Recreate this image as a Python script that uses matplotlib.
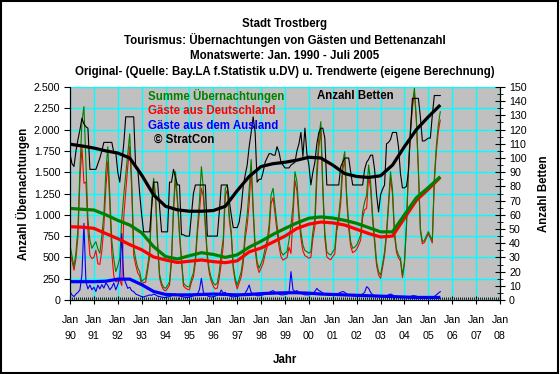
import matplotlib
matplotlib.use("Agg")
import matplotlib.pyplot as plt
from matplotlib.patches import Rectangle
from matplotlib.ticker import FixedLocator, MultipleLocator, FuncFormatter

plt.rcParams['font.family'] = ['Liberation Sans', 'DejaVu Sans']

# ---------------- data (monthly, Jan 1990 - Jul 2005) ----------------
start_year = 1990
summe = [
    645, 520, 390, 560, 841, 1546, 2093, 2270, 1600, 950, 700, 606,
    650, 684, 600, 548, 760, 1000, 1506, 1800, 1232, 700, 480, 333,
    400, 489, 950, 1232, 1467, 1700, 1950, 1400, 620, 480, 380, 333,
    215, 240, 254, 400, 567, 1154, 1428, 1232, 684, 300, 200, 150,
    137, 170, 215, 500, 1100, 1506, 1193, 800, 489, 200, 170, 156,
    156, 250, 320, 500, 850, 1154, 1565, 1300, 900, 528, 350, 254,
    200, 176, 200, 333, 550, 724, 1311, 1350, 1000, 802, 400, 254,
    176, 250, 333, 500, 800, 998, 1300, 1650, 1100, 645, 450, 372,
    430, 489, 606, 700, 880, 1232, 1311, 1100, 880, 700, 567, 528,
    550, 567, 700, 880, 1100, 1506, 1389, 1036, 800, 645, 580, 567,
    550, 567, 800, 958, 1546, 1898, 2093, 1350, 800, 567, 540, 528,
    567, 600, 880, 1000, 1232, 1623, 1741, 1232, 900, 684, 606, 620,
    645, 700, 763, 1036, 1150, 1232, 1585, 1389, 1000, 724, 450, 333,
    293, 420, 567, 800, 1150, 1506, 1300, 802, 600, 528, 489, 293,
    450, 880, 1546, 2000, 2300, 2485, 2132, 1546, 841, 684, 700, 750,
    802, 750, 700, 1428, 1800, 2054, 2210,
]
deutschland = [
    547, 460, 350, 490, 751, 1426, 1793, 1370, 1385, 820, 525, 486,
    500, 584, 425, 418, 580, 860, 1306, 1630, 1112, 550, 280, 213,
    220, 235, 170, 978, 1267, 1563, 1800, 1290, 522, 410, 320, 283,
    175, 205, 209, 350, 507, 1099, 1358, 1172, 639, 260, 165, 120,
    107, 135, 175, 450, 1040, 1436, 1133, 750, 449, 165, 140, 126,
    121, 210, 270, 440, 780, 1034, 1311, 1210, 840, 478, 310, 219,
    160, 131, 140, 263, 433, 644, 1221, 1290, 950, 762, 365, 214,
    131, 200, 273, 430, 720, 878, 1124, 1560, 1030, 585, 400, 322,
    375, 429, 536, 620, 790, 1132, 1201, 1010, 800, 630, 507, 468,
    485, 497, 620, 547, 980, 1406, 1279, 946, 720, 575, 520, 507,
    490, 502, 720, 858, 1410, 1788, 1993, 1270, 730, 507, 485, 473,
    512, 540, 810, 920, 1142, 1523, 1651, 1162, 840, 629, 556, 570,
    595, 645, 703, 966, 1060, 1076, 1448, 1299, 940, 674, 405, 293,
    253, 380, 522, 750, 1090, 1436, 1240, 757, 560, 493, 459, 263,
    420, 850, 1511, 1960, 2250, 2435, 2087, 1511, 811, 659, 675, 725,
    777, 725, 670, 1388, 1740, 1974, 2112,
]
ausland = [
    98, 60, 40, 70, 90, 120, 300, 900, 215, 130, 175, 120,
    150, 100, 175, 130, 180, 140, 200, 170, 120, 150, 200, 120,
    180, 254, 780, 254, 200, 137, 150, 110, 98, 70, 60, 50,
    40, 35, 45, 50, 60, 55, 70, 60, 45, 40, 35, 30,
    30, 35, 40, 50, 60, 70, 60, 50, 40, 35, 30, 30,
    35, 40, 50, 60, 70, 120, 254, 90, 60, 50, 40, 35,
    40, 45, 60, 70, 117, 80, 90, 60, 50, 40, 35, 40,
    45, 50, 60, 70, 80, 120, 176, 90, 70, 60, 50, 50,
    55, 60, 70, 80, 90, 100, 110, 90, 80, 70, 60, 60,
    65, 70, 80, 333, 120, 100, 110, 90, 80, 70, 60, 60,
    60, 65, 80, 100, 136, 110, 100, 80, 70, 60, 55, 55,
    55, 60, 70, 80, 90, 100, 90, 70, 60, 55, 50, 50,
    50, 55, 60, 70, 90, 156, 137, 90, 60, 50, 45, 40,
    40, 40, 45, 50, 60, 70, 60, 45, 40, 35, 30, 30,
    30, 30, 35, 40, 50, 50, 45, 35, 30, 25, 25, 25,
    25, 25, 30, 40, 60, 80, 98,
]
betten = [
    103, 96, 94, 105, 113, 120, 128, 124, 122, 121, 92, 92,
    92, 92, 96, 100, 105, 111, 111, 111, 111, 111, 104, 104,
    90, 83, 96, 110, 129, 129, 129, 129, 129, 93, 93, 75,
    60, 48, 48, 48, 48, 65, 83, 83, 83, 65, 48, 48,
    48, 48, 83, 83, 92, 86, 81, 81, 46, 46, 45, 45,
    45, 60, 75, 81, 81, 81, 81, 81, 81, 45, 45, 45,
    45, 45, 45, 62, 81, 81, 81, 81, 70, 60, 51, 51,
    51, 55, 65, 80, 88, 95, 108, 118, 129, 118, 83, 85,
    85, 90, 97, 100, 103, 103, 102, 102, 108, 104, 97, 95,
    93, 93, 93, 95, 96, 97, 105, 110, 118, 101, 121, 103,
    95, 81, 90, 97, 110, 118, 121, 121, 114, 81, 81, 81,
    81, 81, 81, 81, 94, 97, 100, 100, 100, 90, 81, 81,
    81, 81, 81, 81, 92, 97, 99, 102, 102, 92, 74, 62,
    74, 78, 81, 110, 111, 113, 118, 118, 118, 108, 89, 79,
    79, 80, 90, 118, 142, 142, 142, 142, 129, 112, 112, 113,
    114, 114, 130, 144, 144, 144, 144,
]

# trend values, half-yearly (Jan / Jul), 1990.0 ... 2005.5
trend_years = [1990 + k * 0.5 for k in range(32)]
trend_summe = [1075, 1065, 1056, 1000, 935, 880, 790, 626, 510, 481, 520, 555,
               535, 500, 530, 620, 690, 770, 840, 905, 960, 975, 962, 935,
               900, 850, 800, 800, 1000, 1200, 1320, 1447]
trend_deutschland = [860, 855, 841, 780, 720, 650, 590, 505, 470, 440, 455, 470,
                     450, 438, 460, 565, 610, 680, 750, 840, 890, 915, 905, 880,
                     830, 780, 740, 750, 960, 1170, 1300, 1440]
trend_ausland = [215, 215, 215, 220, 245, 245, 180, 100, 65, 60, 60, 65,
                 70, 65, 60, 65, 75, 80, 85, 85, 80, 70, 65, 60,
                 55, 50, 45, 40, 35, 30, 30, 30]
trend_betten = [109.7, 108.5, 107, 105, 103.5, 100, 88, 74, 66, 63.5, 62.5, 62.5,
                63, 66, 77, 87, 94, 96, 97, 98.5, 100.5, 100, 95, 89,
                87, 86.3, 87.5, 95, 108, 120, 129, 137.3]

x_ticks_years = list(range(1990, 2009))
left_ticks = [0, 250, 500, 750, 1000, 1250, 1500, 1750, 2000, 2250, 2500]
right_ticks = list(range(0, 151, 10))

title_lines = ["Stadt Trostberg",
               "Tourismus: Übernachtungen von Gästen und Bettenanzahl",
               "Monatswerte: Jan. 1990 - Juli 2005",
               "Original- (Quelle: Bay.LA f.Statistik u.DV) u. Trendwerte (eigene Berechnung)"]

# ---------------- figure ----------------
W, H = 560, 374
fig = plt.figure(figsize=(W / 100, H / 100), dpi=100)
fig.patch.set_facecolor('white')

ax = fig.add_axes([70 / W, 1 - 300 / H, 430 / W, 213 / H])
ax.set_facecolor('#C0C0C0')
ax2 = ax.twinx()

months = [start_year + i / 12 for i in range(len(summe))]

thin = 0.8
thick = 2.3
ax.plot(months, deutschland, color='#FF0000', lw=thin, zorder=3)
ax.plot(months, summe, color='#008000', lw=thin, zorder=4)
ax.plot(months, ausland, color='#0000FF', lw=thin, zorder=5)
ax.plot(trend_years, trend_deutschland, color='#FF0000', lw=thick, zorder=6,
        solid_capstyle='butt')
ax.plot(trend_years, trend_summe, color='#008000', lw=thick, zorder=7,
        solid_capstyle='butt')
ax.plot(trend_years, trend_ausland, color='#0000FF', lw=thick, zorder=7,
        solid_capstyle='butt')

ax2.plot(months[:len(betten)], betten, color='black', lw=thin, zorder=3)
ax2.plot(trend_years, trend_betten, color='black', lw=thick, zorder=4,
         solid_capstyle='butt')

# axes limits / ticks
ax.set_xlim(1990, 2008)
ax.set_ylim(0, 2500)
ax2.set_ylim(0, 150)

ax.xaxis.set_major_locator(FixedLocator(x_ticks_years))
ax.set_xticklabels([f"Jan\n{y % 100:02d}" for y in x_ticks_years],
                   linespacing=1.75)
ax.xaxis.set_minor_locator(MultipleLocator(1 / 12))
ax.yaxis.set_major_locator(FixedLocator(left_ticks))
ax.yaxis.set_major_formatter(FuncFormatter(lambda v, p: f"{int(v):,}".replace(",", ".")))
ax2.yaxis.set_major_locator(FixedLocator(right_ticks))
ax2.yaxis.set_minor_locator(MultipleLocator(5))

fs = 7.7
fsb = 8.3
ax.tick_params(axis='x', which='major', direction='inout', length=6, width=0.8,
               labelsize=fs, pad=8)
ax.tick_params(axis='x', which='minor', direction='in', length=2, width=0.6)
ax.tick_params(axis='y', which='major', direction='out', length=4, width=0.8,
               labelsize=fs, pad=3)
ax2.tick_params(axis='y', which='major', direction='inout', length=7, width=0.8,
                labelsize=fs, pad=3)
ax2.tick_params(axis='y', which='minor', direction='inout', length=4, width=0.6)

ax.grid(True, which='major', color='#00FFFF', lw=1.0, zorder=1)
ax.set_axisbelow(True)

for s in ['top']:
    ax.spines[s].set_visible(False)
    ax2.spines[s].set_visible(False)
for a in (ax, ax2):
    for s in ['left', 'right', 'bottom']:
        a.spines[s].set_linewidth(0.8)

ax.set_xlabel("Jahr", fontsize=fsb, fontweight='bold', labelpad=9)
ax.set_ylabel("Anzahl Übernachtungen", fontsize=fsb, fontweight='bold', labelpad=3)
ax2.set_ylabel("Anzahl Betten", fontsize=fsb, fontweight='bold', labelpad=8)

# titles
for k, line in enumerate(title_lines):
    fig.text(285 / W, 1 - (24 + 16 * k) / H, line, ha='center', va='center',
             fontsize=fsb, fontweight='bold')

# in-plot legend texts
legend_items = [("Summe Übernachtungen", '#008000', 148, 96),
                ("Gäste aus Deutschland", '#FF0000', 148, 111),
                ("Gäste aus dem Ausland", '#0000FF', 148, 126),
                ("© StratCon", 'black', 154, 140),
                ("Anzahl Betten", 'black', 317, 96)]
for txt, col, px, py in legend_items:
    fig.text(px / W, 1 - py / H, txt, color=col, ha='left', va='center',
             fontsize=fsb, fontweight='bold', zorder=10)

fig.patches.append(Rectangle((0.001, 0.002), 0.996, 0.996, transform=fig.transFigure,
                             fill=False, ec='black', lw=1.5))

fig.savefig("out.png", dpi=100)
